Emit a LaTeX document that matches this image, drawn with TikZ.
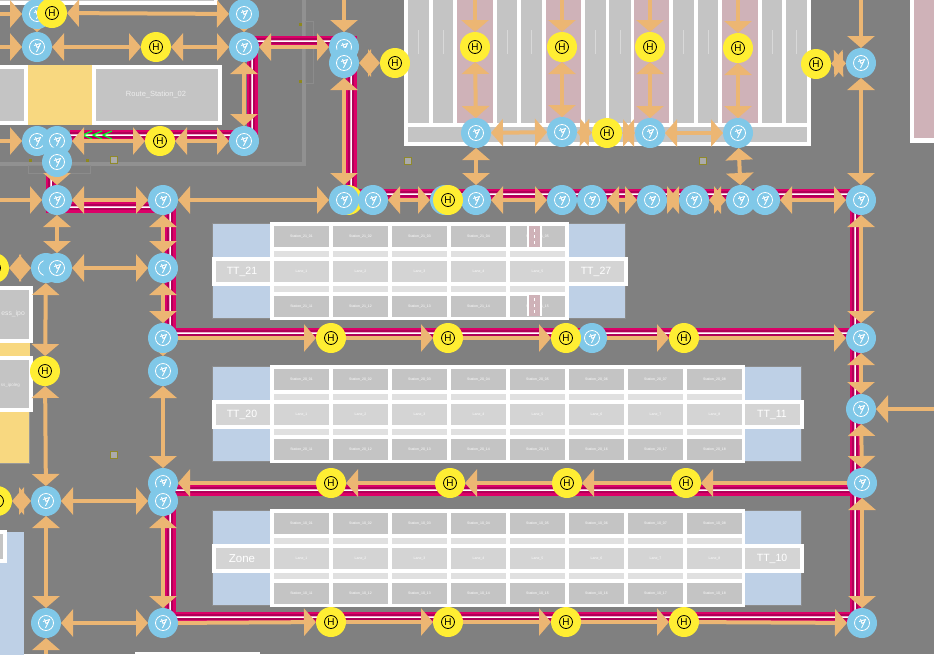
\documentclass[tikz,border=0pt]{standalone}
\usepackage{fontspec}
\setsansfont{Liberation Sans}
\usetikzlibrary{arrows.meta,backgrounds}
\definecolor{floorgray}{HTML}{808080}
\definecolor{wayorange}{HTML}{ECB673}
\definecolor{stopblue}{HTML}{80C8E8}
\definecolor{holdyellow}{HTML}{FFEE33}
\definecolor{railred}{HTML}{DC0068}
\definecolor{raildark}{HTML}{B00058}
\definecolor{railpale}{HTML}{F0A8CC}
\definecolor{cellgray}{HTML}{C4C4C4}
\definecolor{celllight}{HTML}{D4D4D4}
\definecolor{cellpale}{HTML}{E0E0E0}
\definecolor{zoneblue}{HTML}{BED0E6}
\definecolor{sandyellow}{HTML}{F8D880}
\definecolor{slotpink}{HTML}{CFB2B8}
\tikzset{
  stopnode/.style={circle,fill=stopblue,minimum size=30pt,inner sep=0pt,outer sep=0pt,
    path picture={
      \draw[white,line width=0.8pt] (path picture bounding box.center) circle(7.5pt);
      \draw[white,line width=0.9pt,shift={(path picture bounding box.center)}]
        (-3,-1.5)--(3.5,-3.5)--(-0.5,5);
      \draw[white,line width=0.9pt,shift={(path picture bounding box.center)}]
        (-1.5,-4)--(0,0.5)--(2.5,-1);
    }},
  holdnode/.style={circle,fill=holdyellow,minimum size=30pt,inner sep=0pt,outer sep=0pt,
    font=\sffamily\fontsize{10}{10}\selectfont,text=black,
    path picture={\draw[black,line width=0.8pt] (path picture bounding box.center) circle(6.5pt);}},
  twoway/.style={wayorange,line width=4pt,{Triangle[width=27pt,length=12pt]}-{Triangle[width=27pt,length=12pt]}},
  oneway/.style={wayorange,line width=4pt,-{Triangle[width=27pt,length=12pt]}},
  cellbox/.style={minimum width=55pt,inner sep=0pt,outer sep=0pt,text=white,
    font=\sffamily\fontsize{3.5}{3.5}\selectfont},
  framebox/.style={draw=white,line width=4pt,fill=cellgray},
  zonelabel/.style={text=white,font=\sffamily\fontsize{10.5}{12}\selectfont,inner sep=0pt},
  boxlabel/.style={text=white!93!black,font=\sffamily\fontsize{7.5}{8}\selectfont,inner sep=0pt},
  fixmark/.style={draw=olive!70!gray,fill=black!33,line width=1pt,minimum size=7pt,inner sep=0pt},
  fixdot/.style={fill=olive!80!gray},
  rimline/.style={draw=black!43,line width=4pt}
}
\newcommand{\railline}[1]{
  \draw[railred,line width=11pt] #1;
  \draw[raildark,line width=6.5pt] #1;
  \draw[railpale,line width=2.8pt] #1;
  \draw[white,line width=0.8pt] #1;
}
\newcommand{\zonetable}[4]{
  \fill[zoneblue,draw=black!45,line width=0.5pt] (212,#1) rectangle (#3+60,#1+95);
  \fill[white] (270,#1-1) rectangle (#3+4-0,#1+97);
  \foreach \c in {1,...,#2}{
    \pgfmathsetmacro{\cx}{301.5+59*(\c-1)}
    \node[cellbox,fill=cellgray,minimum height=21pt] (top#1c\c) at (\cx,#1+13.5) {Station\_#4\_0\c};
    \node[cellbox,fill=cellpale,minimum height=6pt] (upp#1c\c) at (\cx,#1+31) {};
    \node[cellbox,fill=celllight,minimum height=21pt] (mid#1c\c) at (\cx,#1+48.5) {Lane\_\c};
    \node[cellbox,fill=cellpale,minimum height=6pt] (low#1c\c) at (\cx,#1+66) {};
    \node[cellbox,fill=cellgray,minimum height=21pt] (bot#1c\c) at (\cx,#1+83.5) {Station\_#4\_1\c};
  }
  \fill[white] (212,#1+34) rectangle (272,#1+63);
  \fill[celllight] (215.5,#1+38) rectangle (270,#1+59);
  \fill[white] (#3+2,#1+34) rectangle (#3+63,#1+63);
  \fill[celllight] (#3+4,#1+38) rectangle (#3+59,#1+59);
}
\begin{document}
\begin{tikzpicture}[x=1pt,y=-1pt]
\useasboundingbox (0,0) rectangle (934,654);

\begin{scope}[on background layer]
\fill[floorgray] (0,0) rectangle (934,654);
\draw[rimline] (304,0)--(304,164)--(0,164);
\draw[black!45,line width=0.8pt] (305,21) rectangle (313,83);
\draw[black!45,line width=0.8pt] (28,165) rectangle (90,173);
\foreach \x/\y in {300/24,300/81,30/160,87/160} \fill[fixdot] (\x-1.5,\y-1.5) rectangle (\x+1.5,\y+1.5);
\foreach \x/\y [count=\i] in {114/160,408/161,703/161,114/455} \node[fixmark] (fix\i) at (\x,\y) {};

\draw[framebox] (-8,-20) rectangle (216,3);
\fill[sandyellow] (28,65) rectangle (94,125);
\draw[framebox] (-8,67) rectangle (26,123);
\draw[framebox] (94,67) rectangle (220,123);
\node[boxlabel] (stationlabel) at (156,95) {Route\_Station\_02};
\fill[sandyellow] (0,340) rectangle (30,358);
\fill[sandyellow,draw=black!40,line width=0.5pt] (-2,410) rectangle (29.5,463);
\draw[framebox] (-8,288) rectangle (31,341);
\draw[framebox] (-8,358) rectangle (31,410);
\node[boxlabel,anchor=east,font=\sffamily\fontsize{6.8}{7}\selectfont] (ipolabel) at (25,314) {ess\_ipo};
\node[boxlabel,anchor=east,font=\sffamily\fontsize{4.5}{5}\selectfont] (ipoleglabel) at (20,385) {ss\_ipoleg};
\fill[zoneblue] (-2,532) rectangle (23.5,660);
\draw[framebox] (-8,532) rectangle (4.5,561);
\fill[white] (135,652) rectangle (260,660);

\fill[white] (404,-5) rectangle (811,146);
\fill[cellgray] (408,127) rectangle (807,142);
\foreach \a/\b in {408/429,433/453,497/517,521/542,585/606,609/631,673/694,698/718,762/782,786/807}{
  \fill[cellgray] (\a,-5) rectangle (\b,123);
  \draw[white!85!black,line width=0.8pt] ({(\a+\b)/2},30)--({(\a+\b)/2},54);
}
\foreach \a/\b in {457/493,546/581,634/669,722/758} \fill[slotpink] (\a,-5) rectangle (\b,123);
\fill[white] (910,-5) rectangle (940,143);
\fill[slotpink] (914,-5) rectangle (940,138);

\zonetable{223}{5}{565}{21}
\foreach \y in {226,295}{
  \fill[white] (527,\y) rectangle (542,\y+21);
  \fill[slotpink] (529,\y) rectangle (540,\y+21);
  \draw[white,line width=0.6pt,dashed] (534.5,\y+3)--(534.5,\y+18);
}
\zonetable{366}{8}{741}{20}
\zonetable{510}{8}{741}{10}
\node[zonelabel] (tt21) at (242,272) {TT\_21};
\node[zonelabel] (tt27) at (596,272) {TT\_27};
\node[zonelabel] (tt20) at (242,415) {TT\_20};
\node[zonelabel] (tt11) at (772,415) {TT\_11};
\node[zonelabel,font=\sffamily\fontsize{11.5}{12}\selectfont] (zone) at (242,559) {Zone};
\node[zonelabel] (tt10) at (772,559) {TT\_10};

\railline{(51,172)--(51,207)--(170,207)--(170,333)--(855,333)}
\railline{(70,135)--(252,135)--(252,41)--(351,41)--(351,194)--(855,194)--(855,617)--(170,617)--(170,490)--(855,490)}
\foreach \x in {0,10,20} \draw[green!85!cyan,line width=1.2pt] (92+\x,131)--(83+\x,135)--(92+\x,139);
\end{scope}

\node[holdnode] (ho1) at (348,200) {};
\foreach \i/\x/\y in {1/37/14,2/37/47,3/244/14,4/244/47,5/37/141,6/57/141,7/57/162,8/244/141,9/57/200,10/163/200,
  11/344/47,12/344/63,13/476/133,14/562/132,15/650/133,16/738/133,17/861/63,
  18/344/200,19/373/200,20/445/200,21/476/200,22/562/200,23/592/200,24/652/200,25/694/200,26/741/200,27/765/200,28/861/200,
  29/46/268,30/57/268,31/163/268,32/163/338,33/163/371,34/592/338,35/861/338,36/861/409,37/163/483,38/163/501,39/46/501,
  40/862/483,41/46/623,42/163/623,43/862/623}
  \node[stopnode] (st\i) at (\x,\y) {};
\foreach \i/\x/\y in {2/52/13,3/156/47,4/160/141,5/395/63,6/475/47,7/562/47,8/650/47,9/738/48,10/607/133,11/816/64,
  12/448/200,14/45/371,16/331/338,17/448/338,18/566/338,19/684/338,
  20/331/483,21/450/483,22/567/483,23/686/483,24/331/622,25/448/622,26/566/622,27/684/622}
  \node[holdnode] (ho\i) at (\x,\y) {H};
\node[holdnode] (ho13) at (-6,268) {};
\node[holdnode] (ho15) at (-3,501) {};

\foreach \i/\x/\y in {1/0/14,2/0/47,3/0/141,4/0/200,5/344/0,6/475/0,7/562/0,8/650/0,9/738/0,10/861/0,11/934/409,12/46/654}
  \coordinate (fr\i) at (\x,\y);

\begin{scope}[on background layer]
\foreach \a/\b in {st1/st2,st3/st4,st4/st8,ho2/st3,st2/ho3,ho3/st4,st6/ho4,ho4/st8,st7/st9,st9/st10,st10/st18,st4/st11,
  st12/st18,st12/ho5,ho6/st13,ho7/st14,ho8/st15,ho9/st16,st13/st21,st16/st26,st13/st14,st14/ho10,ho10/st15,st15/st16,
  ho11/st17,st17/st28,st19/st20,st21/st22,st23/st24,st24/st25,st25/st26,st27/st28,st28/st35,st35/st36,st36/st40,st40/st43,
  st10/st31,st31/st32,st32/st33,st33/st37,st38/st42,st9/st30,st30/st31,ho13/st29,st29/ho14,ho14/st39,ho15/st39,st39/st38,
  st39/st41,st41/st42}
  \draw[twoway] (\a)--(\b);
\foreach \a/\b in {fr1/st1,fr2/st2,fr3/st5,fr4/st9,fr5/st11,fr6/ho6,fr7/ho7,fr8/ho8,fr9/ho9,fr10/st17,fr11/st36,fr12/st41,
  st32/ho16,ho16/ho17,ho17/ho18,st34/ho19,ho19/st35,st40/ho23,ho23/ho22,ho22/ho21,ho21/ho20,ho20/st37,
  st42/ho24,ho24/ho25,ho25/ho26,ho26/ho27,ho27/st43}
  \draw[oneway] (\a)--(\b);
\end{scope}
\end{tikzpicture}
\end{document}
